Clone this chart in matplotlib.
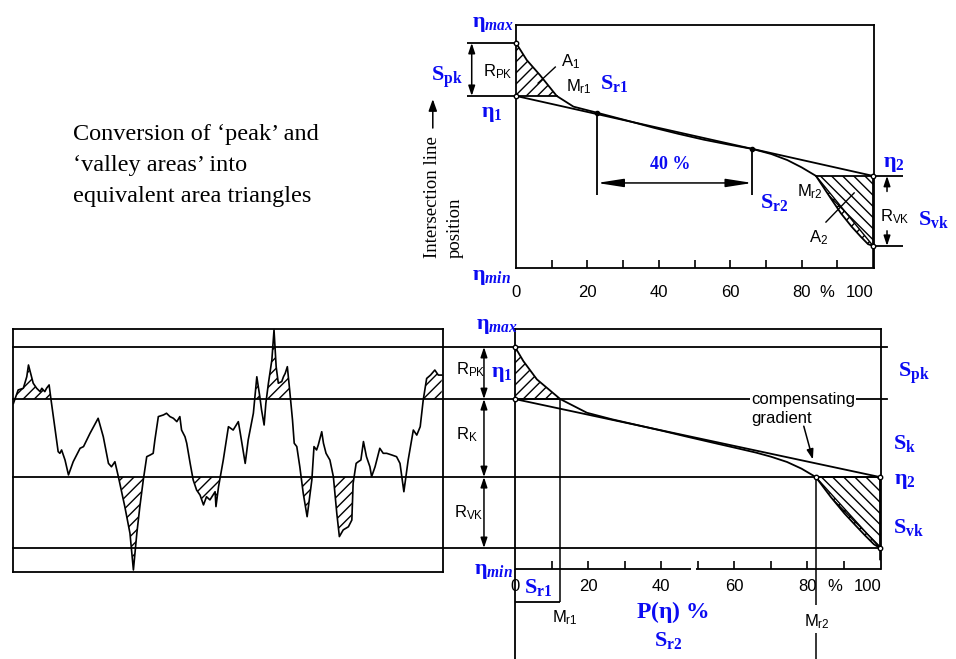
import numpy as np
import matplotlib
matplotlib.use("Agg")
import matplotlib.pyplot as plt
from matplotlib.transforms import blended_transform_factory

plt.rcParams.update({
    "font.family": ["Liberation Sans", "DejaVu Sans"],
    "mathtext.fontset": "custom",
    "mathtext.rm": "Liberation Serif:bold",
    "mathtext.it": "Liberation Serif:italic:bold",
    "mathtext.bf": "Liberation Serif:bold",
    "mathtext.sf": "Liberation Sans",
    "hatch.linewidth": 1.0,
    "hatch.color": "black",
})

# ---------------- data ----------------
# material-ratio axis (%)
ratio_tick_values = [0, 20, 40, 60, 80, 100]
ratio_tick_labels = ["0", "20", "40", "60", "80", "100"]

# upper panel: bearing-area curve, level in % of (eta_max - eta_min)
upper_ratio = [0, 3.0, 6.7, 11.4, 16.1, 22.7, 30.5, 38.6, 45.5, 52.6, 59.5,
               66.2, 71.5, 76.0, 80.0, 84.0, 88.0, 91.0, 94.0, 96.6, 98.6,
               100.0, 100.0]
upper_level = [92.6, 85.6, 79.4, 70.8, 66.4, 63.9, 60.9, 57.7, 55.2, 52.8,
               50.8, 49.0, 46.9, 44.4, 41.4, 37.9, 29.0, 22.5, 17.0, 12.8,
               9.8, 9.1, 0.5]
upper_eta1, upper_eta2 = 70.8, 37.9
upper_peak_top, upper_valley_bottom = 92.6, 9.1
upper_mr1, upper_mr2 = 11.4, 84.0
upper_window = [22.7, 66.2]          # ends of the 40 % secant window
upper_window_level = [63.9, 49.0]
window_label = "40 %"

# lower panel: bearing-area curve
lower_ratio = [0, 2.3, 6.0, 12.4, 19.7, 26.5, 33.4, 40.3, 47.2, 54.0, 60.9,
               66.0, 70.1, 74.5, 78.5, 82.4, 86.5, 90.2, 93.5, 96.0, 98.3,
               100.0, 100.0]
lower_level = [92.5, 86.6, 79.0, 70.8, 65.1, 62.4, 60.0, 57.6, 55.1, 52.7,
               50.3, 48.5, 46.8, 44.6, 41.8, 38.3, 30.0, 23.2, 17.8, 13.8,
               10.3, 8.75, 4.0]
lower_eta1, lower_eta2 = 70.8, 38.3
lower_peak_top, lower_valley_bottom = 92.5, 8.75
lower_mr1, lower_mr2 = 12.4, 82.4

# roughness profile (position % of trace, height on the same level scale)
profile_pos = [0.1, 1.2, 2.4, 3.2, 3.6, 4.1, 4.7, 5.5, 6.3, 6.7,
               7.4, 7.8, 8.4, 8.8, 9.8, 10.5, 10.9, 11.3, 12.1, 12.9,
               14.0, 15.6, 16.4, 17.9, 19.8, 21.0, 22.2, 22.9, 23.7, 24.5,
               26.0, 27.2, 28.0, 28.8, 29.5, 30.3, 31.1, 31.9, 32.6, 33.0,
               33.8, 35.0, 35.7, 36.5, 37.3, 38.1, 38.8, 39.2, 40.0, 40.4,
               41.2, 41.9, 42.7, 43.5, 44.3, 45.0, 45.8, 47.0, 47.2, 47.8,
               48.9, 50.1, 51.2, 52.4, 52.8, 54.0, 54.7, 55.9, 56.7, 57.4,
               57.8, 58.4, 58.8, 59.4, 60.2, 60.7, 61.2, 61.7, 62.5, 62.9,
               63.3, 63.8, 64.3, 65.0, 65.4, 66.0, 66.7, 67.5, 68.4, 69.5,
               70.0, 70.6, 71.0, 71.8, 72.2, 72.8, 73.7, 74.5, 75.3, 75.9,
               76.8, 78.0, 78.8, 79.1, 79.8, 80.3, 80.9, 81.5, 82.2, 83.0,
               83.4, 84.2, 85.3, 86.1, 86.9, 88.1, 89.2, 90.0, 90.9, 91.9,
               93.1, 93.9, 94.7, 95.4, 96.2, 97.1, 98.1, 98.9, 99.7]
profile_height = [69.0, 74.6, 75.3, 80.1, 85.0, 81.5, 77.4, 75.3, 73.9, 75.3,
                  73.9, 75.3, 76.7, 71.1, 57.9, 48.9, 48.2, 49.6, 45.4, 39.2,
                  44.7, 50.3, 51.0, 56.5, 62.8, 55.1, 44.0, 42.6, 44.7, 38.5,
                  26.0, 14.9, -0.4, 14.9, 26.0, 37.1, 46.8, 47.5, 48.2, 53.8,
                  63.5, 64.2, 64.9, 63.5, 62.8, 61.4, 63.5, 57.9, 55.1, 52.4,
                  44.0, 37.1, 32.9, 30.8, 26.7, 30.1, 28.8, 32.2, 26.0, 34.3,
                  45.4, 59.3, 57.9, 61.4, 57.2, 44.0, 53.8, 64.9, 80.1, 71.8,
                  66.3, 60.0, 69.0, 77.4, 87.1, 99.6, 84.3, 77.4, 78.1, 80.1,
                  81.5, 84.3, 75.3, 62.1, 52.4, 51.0, 42.6, 31.5, 21.8, 37.1,
                  51.0, 49.6, 51.7, 57.2, 52.4, 48.2, 45.4, 38.5, 23.2, 13.5,
                  16.3, 17.6, 20.4, 35.7, 44.0, 44.7, 45.4, 53.1, 46.8, 42.6,
                  38.5, 42.6, 50.3, 48.2, 48.2, 47.5, 46.8, 44.0, 32.2, 45.4,
                  57.9, 55.8, 59.3, 70.4, 79.4, 80.8, 82.9, 80.8, 80.8]

# ---------------- figure ----------------
W, H = 956, 659
fig = plt.figure(figsize=(W / 100, H / 100), dpi=100)
fig.patch.set_facecolor("white")
BLUE = "#0b0bf2"
LW = 1.3
XMAX = 100.2


def px_axes(x0, y0, x1, y1):
    return fig.add_axes([x0 / W, 1 - y1 / H, (x1 - x0) / W, (y1 - y0) / H])


def blue(ax, x, y, s, size=16, **kw):
    ax.text(x, y, s, color=BLUE, fontsize=size, ha=kw.pop("ha", "center"),
            va=kw.pop("va", "center"), **kw)


def sans(ax, x, y, s, size=12, **kw):
    ax.text(x, y, s, color="black", fontsize=size, ha=kw.pop("ha", "center"),
            va=kw.pop("va", "center"), **kw)


def dim_arrow(ax, x0, y0, x1, y1, style="<|-|>", hl=0.8, hw=0.25):
    ax.annotate("", xy=(x1, y1), xytext=(x0, y0), annotation_clip=False,
                arrowprops=dict(arrowstyle=f"{style},head_length={hl},head_width={hw}",
                                color="black", lw=1.1, shrinkA=0, shrinkB=0))


def style_chart(ax):
    ax.set_xlim(0, XMAX)
    ax.set_ylim(0, 100)
    ax.set_facecolor("none")
    for s in ax.spines.values():
        s.set_linewidth(LW)
    ax.set_yticks([])
    ax.set_xticks(range(10, 100, 10))
    ax.tick_params(axis="x", direction="in", length=6, width=1.2, labelbottom=False)


def bearing_panel(ax, ratio, level, eta1, eta2, top, bottom, mr1, mr2):
    r = np.asarray(ratio)
    lv = np.asarray(level)
    ax.plot(r, lv, color="black", lw=LW, zorder=4)
    ax.plot([0, 100], [eta1, eta2], color="black", lw=LW, zorder=4)
    # peak area A1
    m1 = r <= mr1
    ax.fill_between(r[m1], lv[m1], eta1, facecolor="none", edgecolor="black",
                    hatch="///", linewidth=0, zorder=2)
    # valley area A2: equivalent triangle plus the band to the curve
    ax.fill([mr2, 100, 100], [eta2, eta2, bottom], facecolor="none",
            edgecolor="black", hatch="\\" * 3, linewidth=0, zorder=2)
    m2 = (r >= mr2) & (r <= 100) & (lv >= bottom)
    chord = np.interp(r[m2], [mr2, 100], [eta2, bottom])
    ax.fill_between(r[m2], lv[m2], chord, facecolor="none", edgecolor="black",
                    hatch="xxx", linewidth=0, zorder=2)
    ax.plot([mr2, 100], [eta2, bottom], color="black", lw=1.0, zorder=4)
    ax.plot([mr2, 100], [eta2, eta2], color="black", lw=LW, zorder=4)
    ax.plot([100, 100], [eta2, bottom], color="black", lw=LW, zorder=4)
    ax.plot([0, mr1], [eta1, eta1], color="black", lw=LW, zorder=4)
    ax.plot([0, 0, 100, 100], [top, eta1, eta2, bottom], "o", ms=3.2,
            mfc="white", mec="black", mew=1.0, zorder=5, clip_on=False)


# ======== upper chart ========
ax1 = px_axes(516, 25, 873.8, 268)
style_chart(ax1)
bearing_panel(ax1, upper_ratio, upper_level, upper_eta1, upper_eta2,
              upper_peak_top, upper_valley_bottom, upper_mr1, upper_mr2)
ax1.plot(upper_window, upper_window_level, "o", ms=3, color="black", zorder=5)

for v, lab in zip(ratio_tick_values, ratio_tick_labels):
    sans(ax1, XMAX if v == 100 else v, -9.9, lab, size=12,
         ha="right" if v == 100 else "center")
sans(ax1, 87, -9.9, "%", size=12)

# R_PK dimension on the left
ax1.hlines([upper_peak_top, upper_eta1], -13.8, 0, color="black", lw=LW, clip_on=False)
dim_arrow(ax1, -12.4, upper_eta1, -12.4, upper_peak_top, hl=0.6, hw=0.2)
sans(ax1, -5.2, 80.7, r"$\mathsf{R}_{\mathsf{PK}}$", size=12)

# R_VK dimension on the right
ax1.hlines([upper_eta2, upper_valley_bottom], 100, 108.4, color="black", lw=LW, clip_on=False)
dim_arrow(ax1, 103.9, 31.5, 103.9, upper_eta2, style="-|>", hl=0.6, hw=0.2)
dim_arrow(ax1, 103.9, 15.3, 103.9, upper_valley_bottom, style="-|>", hl=0.6, hw=0.2)
sans(ax1, 106.0, 21.0, r"$\mathsf{R}_{\mathsf{VK}}$", size=12)

# 40 % secant window
ax1.vlines(upper_window[0], 30.0, upper_window_level[0], color="black", lw=LW)
ax1.vlines(upper_window[1], 30.0, upper_window_level[1], color="black", lw=LW)
dim_arrow(ax1, upper_window[0], 35.0, upper_window[1], 35.0, hl=1.6, hw=0.25)
ax1.text(43.3, 42.4, window_label, color=BLUE, fontsize=13, fontweight="bold",
         family="Liberation Serif", ha="center", va="center")

# area / point labels
sans(ax1, 15.2, 85.0, r"$\mathsf{A}_{\mathsf{1}}$")
ax1.plot([11.0, 6.2], [82.7, 76.1], color="black", lw=1.0, zorder=6)
sans(ax1, 17.6, 74.5, r"$\mathsf{M}_{\mathsf{r1}}$")
sans(ax1, 82.2, 31.5, r"$\mathsf{M}_{\mathsf{r2}}$")
sans(ax1, 84.6, 12.5, r"$\mathsf{A}_{\mathsf{2}}$")
ax1.plot([86.8, 94.7], [18.9, 30.9], color="black", lw=1.0, zorder=6)

blue(ax1, -6.3, 100.5, r"$\mathrm{\eta}_{max}$")
blue(ax1, -19.3, 78.6, r"$\mathrm{S}_{\mathrm{pk}}$")
blue(ax1, -6.7, 63.5, r"$\mathrm{\eta}_{1}$")
blue(ax1, 27.6, 76.0, r"$\mathrm{S}_{\mathrm{r1}}$")
blue(ax1, 72.4, 27.0, r"$\mathrm{S}_{\mathrm{r2}}$")
blue(ax1, 105.8, 43.2, r"$\mathrm{\eta}_{2}$")
blue(ax1, 112.6, 20.0, r"$\mathrm{S}_{\mathrm{vk}}$", ha="left")
blue(ax1, -6.9, -3.7, r"$\mathrm{\eta}_{min}$")

# vertical axis caption
ax1.text(-23.3, 4.1, "Intersection line", rotation=90, ha="center", va="bottom",
         family="Liberation Serif", fontsize=13.5)
ax1.text(-17.1, 4.1, "position", rotation=90, ha="center", va="bottom",
         family="Liberation Serif", fontsize=13.5)
dim_arrow(ax1, -23.3, 57.6, -23.3, 69.5, style="-|>", hl=0.7, hw=0.25)

fig.text(73 / W, 1 - 124 / H,
         "Conversion of \u2018peak\u2019 and\n\u2018valley areas\u2019 into\nequivalent area triangles",
         family="Liberation Serif", fontsize=17.5, ha="left", va="top", linespacing=1.64)

# ======== lower chart ========
ax2 = px_axes(515, 329, 880.8, 569)
style_chart(ax2)
ax2.spines["bottom"].set_visible(False)
ax2.hlines(0, 0, 48.1, color="black", lw=LW, clip_on=False)
ax2.hlines(0, 49.7, XMAX, color="black", lw=LW, clip_on=False)
bearing_panel(ax2, lower_ratio, lower_level, lower_eta1, lower_eta2,
              lower_peak_top, lower_valley_bottom, lower_mr1, lower_mr2)
ax2.plot([lower_mr2], [lower_eta2], "o", ms=3.2, mfc="white", mec="black", zorder=5)

for v, lab in zip(ratio_tick_values, ratio_tick_labels):
    sans(ax2, XMAX + 0.3 if v == 100 else v, -7.1, lab, size=12,
         ha="right" if v == 100 else "center")
sans(ax2, 87.5, -7.1, "%", size=12)

# level lines running across profile and curve
tr = blended_transform_factory(fig.transFigure, ax2.transData)
for lvl, xr in [(lower_peak_top, 887), (lower_eta1, 887),
                (lower_eta2, 880), (lower_valley_bottom, 880)]:
    ax2.plot([13 / W, xr / W], [lvl, lvl], color="black", lw=LW,
             transform=tr, clip_on=False, zorder=3)

# R dimension chain
for a, b in [(lower_peak_top, lower_eta1), (lower_eta1, lower_eta2),
             (lower_eta2, lower_valley_bottom)]:
    dim_arrow(ax2, -8.5, a, -8.5, b, hl=0.6, hw=0.2)
sans(ax2, -12.2, 82.9, r"$\mathsf{R}_{\mathsf{PK}}$")
sans(ax2, -13.2, 55.8, r"$\mathsf{R}_{\mathsf{K}}$")
sans(ax2, -12.6, 23.5, r"$\mathsf{R}_{\mathsf{VK}}$")

# extension lines for Mr1 / Mr2 below the axis
ax2.vlines(0, -40, 0, color="black", lw=LW, clip_on=False)
ax2.vlines(lower_mr1, -13.75, lower_eta1, color="black", lw=1.1, clip_on=False)
ax2.hlines(-13.75, 0, lower_mr1, color="black", lw=LW, clip_on=False)
ax2.vlines(lower_mr2, -15, lower_eta2, color="black", lw=1.1, clip_on=False)
ax2.vlines(lower_mr2, -40, -26.7, color="black", lw=1.1, clip_on=False)
sans(ax2, 13.6, -20.5, r"$\mathsf{M}_{\mathsf{r1}}$")
sans(ax2, 82.6, -22.0, r"$\mathsf{M}_{\mathsf{r2}}$")

ax2.text(64.6, 70.8, "compensating", fontsize=12, ha="left", va="center", zorder=7,
         bbox=dict(facecolor="white", edgecolor="none", pad=1.0))
ax2.text(64.6, 62.6, "gradient", fontsize=12, ha="left", va="center", zorder=7)
dim_arrow(ax2, 79.1, 59.5, 81.6, 45.6, style="-|>", hl=0.6, hw=0.2)

blue(ax2, -4.9, 101.3, r"$\mathrm{\eta}_{max}$")
blue(ax2, -3.6, 81.5, r"$\mathrm{\eta}_{1}$")
blue(ax2, 109.3, 81.5, r"$\mathrm{S}_{\mathrm{pk}}$")
blue(ax2, 106.8, 52.3, r"$\mathrm{S}_{\mathrm{k}}$")
blue(ax2, 106.8, 37.0, r"$\mathrm{\eta}_{2}$")
blue(ax2, 107.9, 17.3, r"$\mathrm{S}_{\mathrm{vk}}$")
blue(ax2, -6.0, -0.6, r"$\mathrm{\eta}_{min}$")
blue(ax2, 6.3, -7.6, r"$\mathrm{S}_{\mathrm{r1}}$")
blue(ax2, 43.1, -18.0, r"$\mathrm{P(\eta)\ \%}$", size=17)
blue(ax2, 42.0, -29.8, r"$\mathrm{S}_{\mathrm{r2}}$")

# ======== roughness profile ========
ax3 = px_axes(13, 329, 443, 572)
ax3.set_xlim(0, 100)
ax3.set_ylim(-1.25, 100)
ax3.set_xticks([])
ax3.set_yticks([])
ax3.set_facecolor("none")
for s in ax3.spines.values():
    s.set_linewidth(LW)
px = np.asarray(profile_pos)
pz = np.asarray(profile_height)
ax3.plot(px, pz, color="black", lw=1.2, zorder=4)
ax3.fill_between(px, pz, lower_eta1, where=pz >= lower_eta1, interpolate=True,
                 facecolor="none", edgecolor="black", hatch="///", linewidth=0)
ax3.fill_between(px, pz, lower_eta2, where=pz <= lower_eta2, interpolate=True,
                 facecolor="none", edgecolor="black", hatch="///", linewidth=0)

fig.savefig("out.png", dpi=100, facecolor="white")
